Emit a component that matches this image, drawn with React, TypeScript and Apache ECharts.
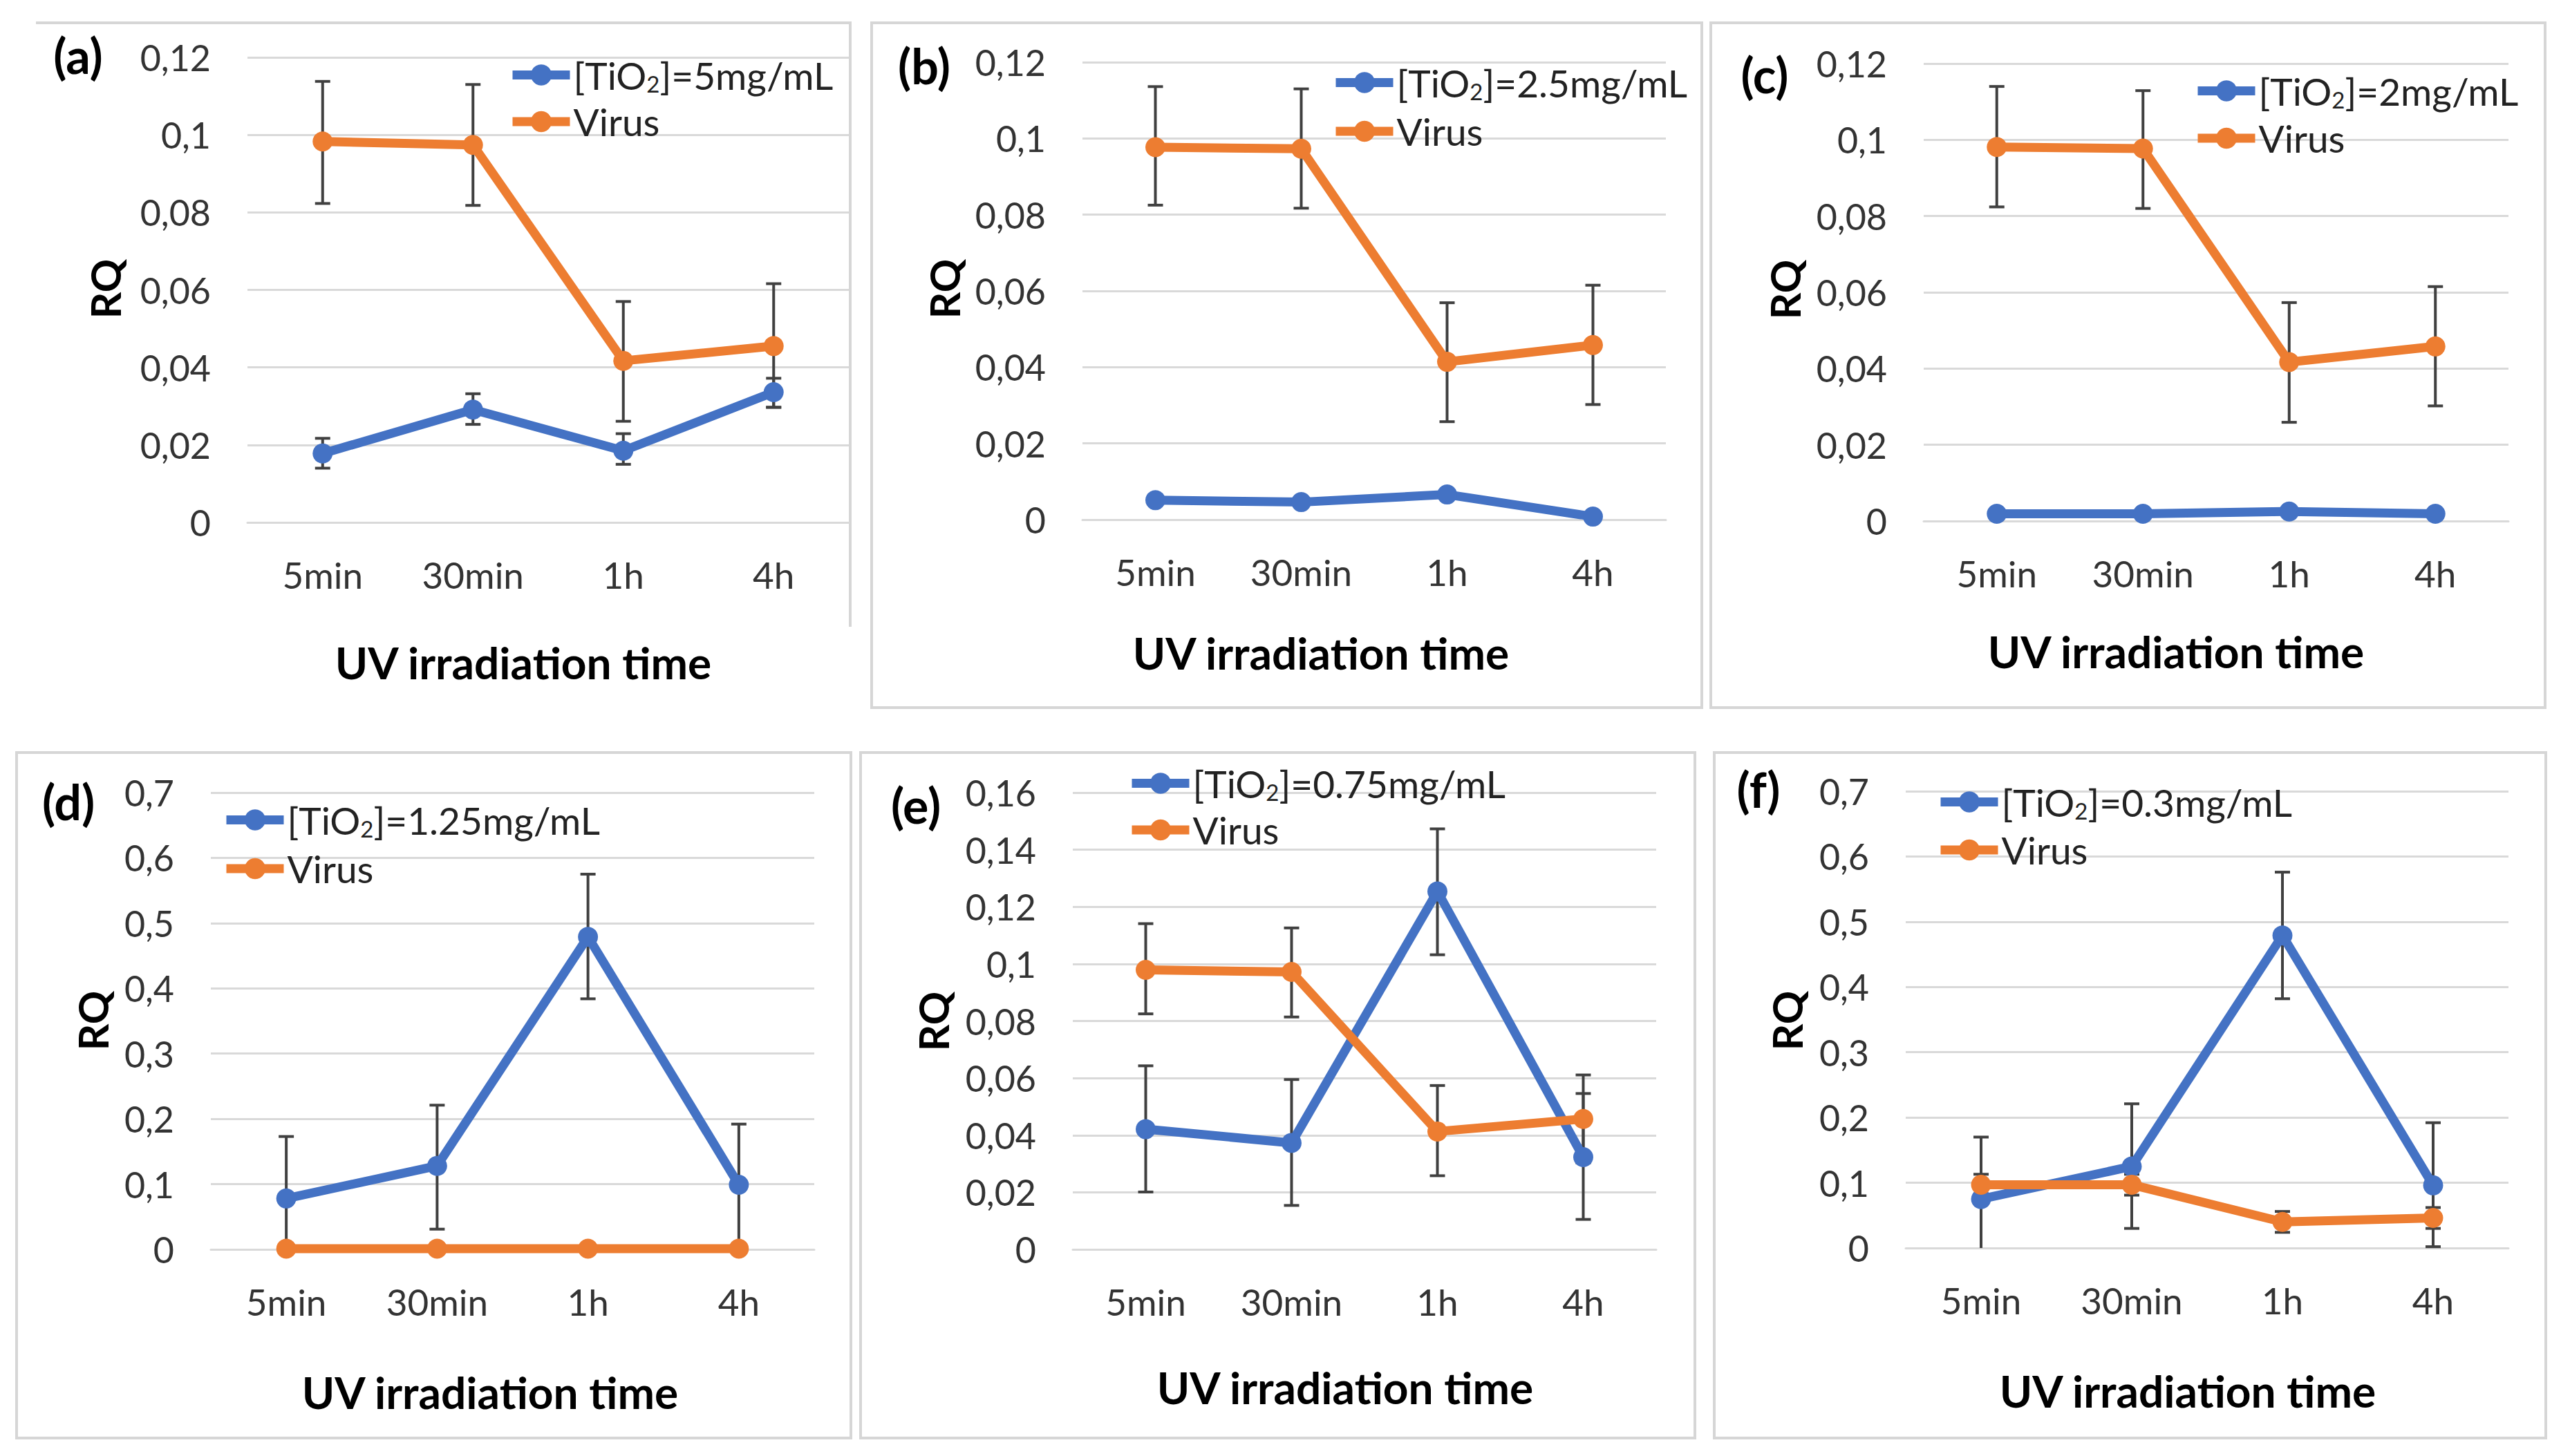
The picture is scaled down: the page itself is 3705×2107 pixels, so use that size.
import React, { useEffect, useRef } from "react";
import * as echarts from "echarts";

const FONT = "Lato";
const BLUE = "#4472C4";
const ORANGE = "#ED7D31";
const GRID_GRAY = "#d9d9d9";
const ERR_COLOR = "#404040";

const categories = ["5min", "30min", "1h", "4h"];

// (a)
const aTiO2 = [0.0178, 0.0291, 0.0185, 0.0336];
const aTiO2Lo = [0.014, 0.0253, 0.015, 0.0297];
const aTiO2Hi = [0.0217, 0.0332, 0.0229, 0.0372];
const aVirus = [0.0983, 0.0974, 0.0417, 0.0455];
const aVirusLo = [0.0823, 0.0818, 0.0261, 0.0297];
const aVirusHi = [0.1138, 0.113, 0.057, 0.0616];
// (b)
const bTiO2 = [0.0051, 0.0046, 0.0066, 0.0008];
const bVirus = [0.0977, 0.0973, 0.0414, 0.0458];
const bVirusLo = [0.0825, 0.0817, 0.0257, 0.0302];
const bVirusHi = [0.1136, 0.113, 0.0569, 0.0615];
// (c)
const cTiO2 = [0.0019, 0.0019, 0.0025, 0.0019];
const cVirus = [0.0981, 0.0977, 0.0417, 0.0458];
const cVirusLo = [0.0824, 0.082, 0.0259, 0.0302];
const cVirusHi = [0.114, 0.1129, 0.0573, 0.0615];
// (d)
const dTiO2 = [0.078, 0.128, 0.479, 0.099];
const dTiO2Lo = [-0.017, 0.031, 0.384, 0.006];
const dTiO2Hi = [0.173, 0.221, 0.575, 0.192];
const dVirus = [0.001, 0.001, 0.001, 0.001];
// (e)
const eTiO2 = [0.0421, 0.0373, 0.1254, 0.0323];
const eTiO2Lo = [0.0201, 0.0154, 0.1032, 0.0105];
const eTiO2Hi = [0.0643, 0.0595, 0.1473, 0.0546];
const eVirus = [0.0979, 0.0972, 0.0413, 0.0457];
const eVirusLo = [0.0825, 0.0814, 0.0258, 0.0303];
const eVirusHi = [0.1141, 0.1126, 0.0574, 0.0611];
// (f)
const fTiO2 = [0.075, 0.125, 0.479, 0.096];
const fTiO2Lo = [-0.02, 0.03, 0.382, 0.002];
const fTiO2Hi = [0.17, 0.221, 0.576, 0.192];
const fVirus = [0.097, 0.097, 0.04, 0.046];
const fVirusLo = [0.081, 0.081, 0.024, 0.03];
const fVirusHi = [0.113, 0.113, 0.056, 0.062];

const panelLabels = ["(a)", "(b)", "(c)", "(d)", "(e)", "(f)"];
const tio2Names = [
  "[TiO2]=5mg/mL",
  "[TiO2]=2.5mg/mL",
  "[TiO2]=2mg/mL",
  "[TiO2]=1.25mg/mL",
  "[TiO2]=0.75mg/mL",
  "[TiO2]=0.3mg/mL",
];
const virusName = "Virus";
const yTitle = "RQ";
const xTitle = "UV irradiation time";
const yMaxes = [0.12, 0.12, 0.12, 0.7, 0.16, 0.7];
const yIntervals = [0.02, 0.02, 0.02, 0.1, 0.02, 0.1];

const panels = [
  {
    tio2: aTiO2, tio2Lo: aTiO2Lo, tio2Hi: aTiO2Hi, virus: aVirus, virusLo: aVirusLo, virusHi: aVirusHi,
    grid: { left: 358, top: 83, width: 870, height: 673 },
    legend: { left: 735, top: 81, gap: 11 },
    label: [113, 80], rq: [152, 418], title: [757, 958],
  },
  {
    tio2: bTiO2, tio2Lo: null, tio2Hi: null, virus: bVirus, virusLo: bVirusLo, virusHi: bVirusHi,
    grid: { left: 1566, top: 90, width: 844, height: 662 },
    legend: { left: 1926, top: 92, gap: 14 },
    label: [1337, 95], rq: [1366, 418], title: [1911, 944],
  },
  {
    tio2: cTiO2, tio2Lo: null, tio2Hi: null, virus: cVirus, virusLo: cVirusLo, virusHi: cVirusHi,
    grid: { left: 2783, top: 92, width: 846, height: 662 },
    legend: { left: 3173, top: 104, gap: 12 },
    label: [2553, 108], rq: [2582, 419], title: [3148, 942],
  },
  {
    tio2: dTiO2, tio2Lo: dTiO2Lo, tio2Hi: dTiO2Hi, virus: dVirus, virusLo: null, virusHi: null,
    grid: { left: 305, top: 1147, width: 873, height: 661 },
    legend: { left: 321, top: 1159, gap: 14 },
    label: [99, 1160], rq: [134, 1477], title: [709, 2014],
  },
  {
    tio2: eTiO2, tio2Lo: eTiO2Lo, tio2Hi: eTiO2Hi, virus: eVirus, virusLo: eVirusLo, virusHi: eVirusHi,
    grid: { left: 1552, top: 1147, width: 844, height: 661 },
    legend: { left: 1631, top: 1106, gap: 11 },
    label: [1325, 1165], rq: [1350, 1478], title: [1946, 2007],
  },
  {
    tio2: fTiO2, tio2Lo: fTiO2Lo, tio2Hi: fTiO2Hi, virus: fVirus, virusLo: fVirusLo, virusHi: fVirusHi,
    grid: { left: 2757, top: 1145, width: 872, height: 661 },
    legend: { left: 2801, top: 1133, gap: 13 },
    label: [2544, 1142], rq: [2585, 1477], title: [3165, 2012],
  },
];

const borders: any[] = [
  { type: "polyline", shape: { points: [[52, 33], [1230, 33], [1230, 907]] } },
  { type: "rect", shape: { x: 1261, y: 33, width: 1201, height: 991 } },
  { type: "rect", shape: { x: 2475, y: 33, width: 1207, height: 991 } },
  { type: "rect", shape: { x: 24, y: 1089, width: 1207, height: 992 } },
  { type: "rect", shape: { x: 1245, y: 1089, width: 1207, height: 992 } },
  { type: "rect", shape: { x: 2480, y: 1089, width: 1203, height: 992 } },
];

function fmtTick(v: number) {
  const r = Math.round(v * 1000) / 1000;
  return String(r).replace(".", ",");
}

function errData(lo: number[] | null, hi: number[] | null) {
  if (!lo || !hi) return null;
  return lo.map((l, i) => [i, l, hi[i]]);
}

function renderErr(params: any, api: any) {
  const x = api.value(0);
  const lo = api.value(1);
  const hi = api.value(2);
  const clipped = lo < 0;
  const pLo = api.coord([x, clipped ? 0 : lo]);
  const pHi = api.coord([x, hi]);
  const cap = 11;
  const st = { stroke: ERR_COLOR, lineWidth: 4 };
  const children: any[] = [
    { type: "line", shape: { x1: pLo[0], y1: pLo[1], x2: pHi[0], y2: pHi[1] }, style: st },
    { type: "line", shape: { x1: pHi[0] - cap, y1: pHi[1], x2: pHi[0] + cap, y2: pHi[1] }, style: st },
  ];
  if (!clipped) {
    children.push({ type: "line", shape: { x1: pLo[0] - cap, y1: pLo[1], x2: pLo[0] + cap, y2: pLo[1] }, style: st });
  }
  return { type: "group", children };
}

function legendFormatter(name: string) {
  if (name.startsWith("[TiO2]")) {
    return `{a|[TiO}{s|2}{a|]${name.slice(6)}}`;
  }
  return `{a|${name}}`;
}

function buildOption() {
  const grid: any[] = [];
  const xAxis: any[] = [];
  const yAxis: any[] = [];
  const series: any[] = [];
  const legend: any[] = [];
  const graphic: any[] = [];

  panels.forEach((p, i) => {
    grid.push({ ...p.grid, containLabel: false });
    xAxis.push({
      type: "category",
      gridIndex: i,
      data: categories,
      boundaryGap: true,
      axisLine: { show: true, lineStyle: { color: GRID_GRAY, width: 3 } },
      axisTick: { show: false },
      splitLine: { show: false },
      axisLabel: { fontFamily: FONT, fontSize: 53, color: "#333", margin: 49 },
    });
    yAxis.push({
      type: "value",
      gridIndex: i,
      min: 0,
      max: yMaxes[i],
      interval: yIntervals[i],
      axisLine: { show: false },
      axisTick: { show: false },
      splitLine: { show: true, lineStyle: { color: GRID_GRAY, width: 3 } },
      axisLabel: { fontFamily: FONT, fontSize: 52, color: "#333", margin: 53, formatter: fmtTick },
    });
    const te = errData(p.tio2Lo, p.tio2Hi);
    if (te) {
      series.push({
        type: "custom", xAxisIndex: i, yAxisIndex: i, data: te, renderItem: renderErr,
        encode: { x: 0, y: [1, 2] }, z: 1, silent: true,
      });
    }
    const ve = errData(p.virusLo, p.virusHi);
    if (ve) {
      series.push({
        type: "custom", xAxisIndex: i, yAxisIndex: i, data: ve, renderItem: renderErr,
        encode: { x: 0, y: [1, 2] }, z: 1, silent: true,
      });
    }
    series.push({
      type: "line", name: tio2Names[i], xAxisIndex: i, yAxisIndex: i, data: p.tio2,
      symbol: "circle", symbolSize: 29, showSymbol: true,
      lineStyle: { width: 13, color: BLUE }, itemStyle: { color: BLUE }, z: 2,
      emphasis: { disabled: true },
    });
    series.push({
      type: "line", name: virusName, xAxisIndex: i, yAxisIndex: i, data: p.virus,
      symbol: "circle", symbolSize: 29, showSymbol: true,
      lineStyle: { width: 13, color: ORANGE }, itemStyle: { color: ORANGE }, z: 3,
      emphasis: { disabled: true },
    });
    legend.push({
      data: [tio2Names[i], virusName],
      orient: "vertical",
      left: p.legend.left,
      top: p.legend.top,
      itemGap: p.legend.gap,
      itemWidth: 83,
      itemHeight: 38,
      padding: 0,
      selectedMode: false,
      lineStyle: { width: 13 },
      formatter: legendFormatter,
      textStyle: {
        fontFamily: FONT,
        fontSize: 55,
        color: "#222",
        rich: {
          a: { fontFamily: FONT, fontSize: 55, color: "#222", lineHeight: 58 },
          s: { fontFamily: FONT, fontSize: 33, color: "#222", lineHeight: 22, verticalAlign: "bottom" },
        },
      },
    });
    graphic.push({
      type: "text", x: p.label[0], y: p.label[1],
      style: { text: panelLabels[i], fontFamily: FONT, fontWeight: "bold", fontSize: 70, fill: "#000", textAlign: "center", textVerticalAlign: "middle" },
    });
    graphic.push({
      type: "text", x: p.rq[0], y: p.rq[1], rotation: Math.PI / 2,
      style: { text: yTitle, fontFamily: FONT, fontWeight: "bold", fontSize: 60, fill: "#000", textAlign: "center", textVerticalAlign: "middle" },
    });
    graphic.push({
      type: "text", x: p.title[0], y: p.title[1],
      style: { text: xTitle, fontFamily: FONT, fontWeight: "bold", fontSize: 64, fill: "#000", textAlign: "center", textVerticalAlign: "middle" },
    });
  });

  borders.forEach((b) => {
    graphic.push({ ...b, silent: true, z: -1, style: { fill: "none", stroke: "#d6d6d6", lineWidth: 4 } });
  });

  return {
    animation: false,
    backgroundColor: "#ffffff",
    grid,
    xAxis,
    yAxis,
    legend,
    series,
    graphic,
  };
}

export default function App() {
  const ref = useRef<HTMLDivElement>(null);
  useEffect(() => {
    if (!ref.current) return;
    const chart = echarts.init(ref.current, null, { renderer: "svg" });
    chart.setOption(buildOption() as any);
    return () => chart.dispose();
  }, []);
  return (
    <div
      ref={ref}
      style={{ position: "absolute", left: 0, top: 0, width: 3705, height: 2107, background: "#fff" }}
    />
  );
}
